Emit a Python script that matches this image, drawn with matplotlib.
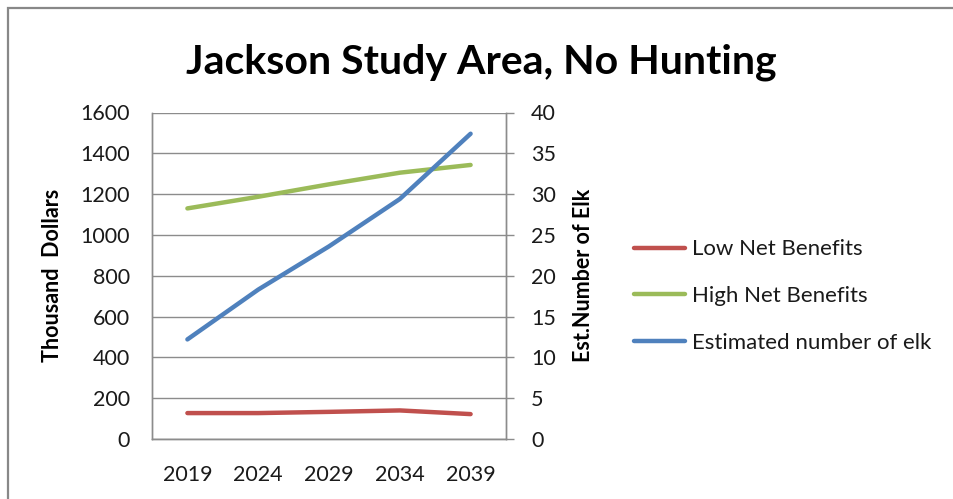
import numpy as np
import matplotlib
matplotlib.use("Agg")
import matplotlib.pyplot as plt
from matplotlib.patches import Rectangle

# ---- data ----
years = ["2019", "2024", "2029", "2034", "2039"]
low_net = [127, 127, 133, 140, 122]          # thousand dollars
high_net = [1130, 1187, 1248, 1305, 1343]    # thousand dollars
elk = [12.2, 18.3, 23.6, 29.4, 37.4]         # est. number of elk (right axis)

plt.rcParams.update({
    "font.family": ["Lato", "DejaVu Sans"],
    "axes.linewidth": 1.0,
})

RED = "#C0504D"
GREEN = "#9BBB59"
BLUE = "#4F81BD"
GRID = "#8C8C8C"
TXT = "#1A1A1A"

fig = plt.figure(figsize=(9.54, 4.99), dpi=100)
ax = fig.add_axes([152 / 954, 1 - 439 / 499, 354 / 954, 326.5 / 499])
ax2 = ax.twinx()

x = np.arange(len(years))
l1, = ax.plot(x, low_net, color=RED, lw=3.2, solid_capstyle="round", label="Low Net Benefits")
l2, = ax.plot(x, high_net, color=GREEN, lw=3.2, solid_capstyle="round", label="High Net Benefits")
l3, = ax2.plot(x, elk, color=BLUE, lw=3.2, solid_capstyle="round", label="Estimated number of elk")

ax.set_xlim(-0.5, len(years) - 0.5)
ax.set_ylim(0, 1600)
ax.set_yticks(np.arange(0, 1601, 200))
ax2.set_ylim(0, 40)
ax2.set_yticks(np.arange(0, 41, 5))
ax.set_xticks(x)
ax.set_xticklabels(years)

ax.grid(axis="y", color=GRID, lw=1.0)
ax.set_axisbelow(True)
for a in (ax, ax2):
    for s in a.spines.values():
        s.set_color(GRID)
        s.set_linewidth(1.0)
ax.spines["top"].set_visible(False)
ax2.spines["top"].set_visible(False)

ax.tick_params(axis="y", length=0, pad=16, labelsize=15.5, colors=TXT)
ax.tick_params(axis="x", length=0, pad=19, labelsize=15.5, colors=TXT)
ax2.tick_params(axis="y", length=6, width=1.0, color=GRID, pad=12,
                labelsize=15.5, labelcolor=TXT)

ax.set_ylabel("Thousand  Dollars", fontsize=15.5, fontweight="bold", color="black")
ax.yaxis.set_label_coords(-0.25, 0.5)
ax2.set_ylabel("Est.Number of Elk", fontsize=15.5, fontweight="bold", color="black")
ax2.yaxis.set_label_coords(1.19, 0.5)

fig.text(481 / 954, 1 - 62 / 499, "Jackson Study Area, No Hunting", ha="center", va="center",
         fontsize=29.5, fontweight="bold", color="black")

leg = fig.legend(handles=[l1, l2, l3], loc="center left",
                 bbox_to_anchor=(634 / 954, 1 - 296 / 499), frameon=False,
                 fontsize=16, handlelength=2.3, handletextpad=0.3, labelspacing=1.2,
                 borderaxespad=0, borderpad=0)
for t in leg.get_texts():
    t.set_color(TXT)

# outer chart border (Excel chart area)
fig.patches.append(Rectangle((8 / 954, -0.05), 1.1, 1 - 8 / 499 + 0.05, transform=fig.transFigure,
                             fill=False, edgecolor="#888888", lw=1.6))

fig.savefig("out.png", dpi=100)
